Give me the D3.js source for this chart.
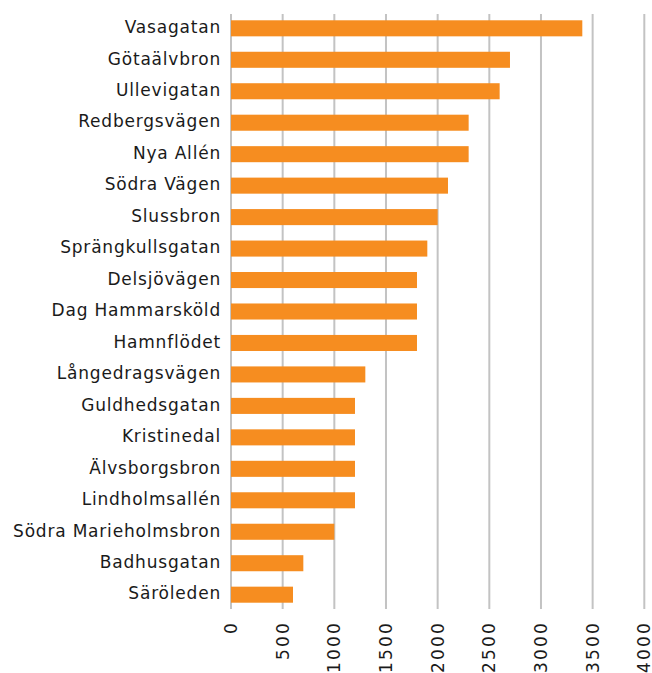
<!DOCTYPE html>
<html>
<head>
<meta charset="utf-8">
<script src="https://d3js.org/d3.v7.min.js"></script>
<style>
  body { margin: 0; background: #fff; }
  text { font-family: "DejaVu Sans", sans-serif; fill: #1a1a1a; }
</style>
</head>
<body>
<script>
var width = 652,
    height = 673;
var margin = {top: 14, right: 8, bottom: 64, left: 231};

var streets = ["Vasagatan", "Götaälvbron", "Ullevigatan", "Redbergsvägen", "Nya Allén",
  "Södra Vägen", "Slussbron", "Sprängkullsgatan", "Delsjövägen", "Dag Hammarsköld",
  "Hamnflödet", "Långedragsvägen", "Guldhedsgatan", "Kristinedal", "Älvsborgsbron",
  "Lindholmsallén", "Södra Marieholmsbron", "Badhusgatan", "Säröleden"];
var values = [3400, 2700, 2600, 2300, 2300, 2100, 2000, 1900, 1800, 1800,
  1800, 1300, 1200, 1200, 1200, 1200, 1000, 700, 600];
var ticks = [0, 500, 1000, 1500, 2000, 2500, 3000, 3500, 4000];

var svg = d3.select("body").append("svg")
    .attr("width", width)
    .attr("height", height);

var x = d3.scaleLinear().domain([0, 4000]).range([margin.left, 644.3]);
var y = d3.scaleBand().domain(streets)
    .range([margin.top, 609]).paddingInner(0.49).paddingOuter(0.2);

// gridlines
svg.append("g")
    .selectAll("line")
    .data(ticks)
    .enter().append("line")
    .attr("x1", function(d) { return x(d); })
    .attr("x2", function(d) { return x(d); })
    .attr("y1", margin.top)
    .attr("y2", 609)
    .attr("stroke", "#c3c3c3")
    .attr("stroke-width", 2);

// bars
svg.append("g")
    .selectAll("rect")
    .data(streets)
    .enter().append("rect")
    .attr("x", x(0))
    .attr("y", function(d) { return y(d); })
    .attr("width", function(d, i) { return x(values[i]) - x(0); })
    .attr("height", y.bandwidth())
    .attr("fill", "#f68d20");

// category labels
svg.append("g")
    .selectAll("text")
    .data(streets)
    .enter().append("text")
    .attr("x", 221)
    .attr("y", function(d) { return y(d) + y.bandwidth() / 2; })
    .attr("dy", "0.28em")
    .attr("text-anchor", "end")
    .style("font-size", "17px")
    .style("letter-spacing", "0.8px")
    .text(function(d) { return d; });

// x tick labels, rotated
svg.append("g")
    .selectAll("text")
    .data(ticks)
    .enter().append("text")
    .attr("transform", function(d) { return "translate(" + x(d) + ",621) rotate(-90)"; })
    .attr("dy", "0.36em")
    .attr("text-anchor", "end")
    .style("font-size", "17px")
    .style("letter-spacing", "2.2px")
    .text(function(d) { return d; });
</script>
</body>
</html>
